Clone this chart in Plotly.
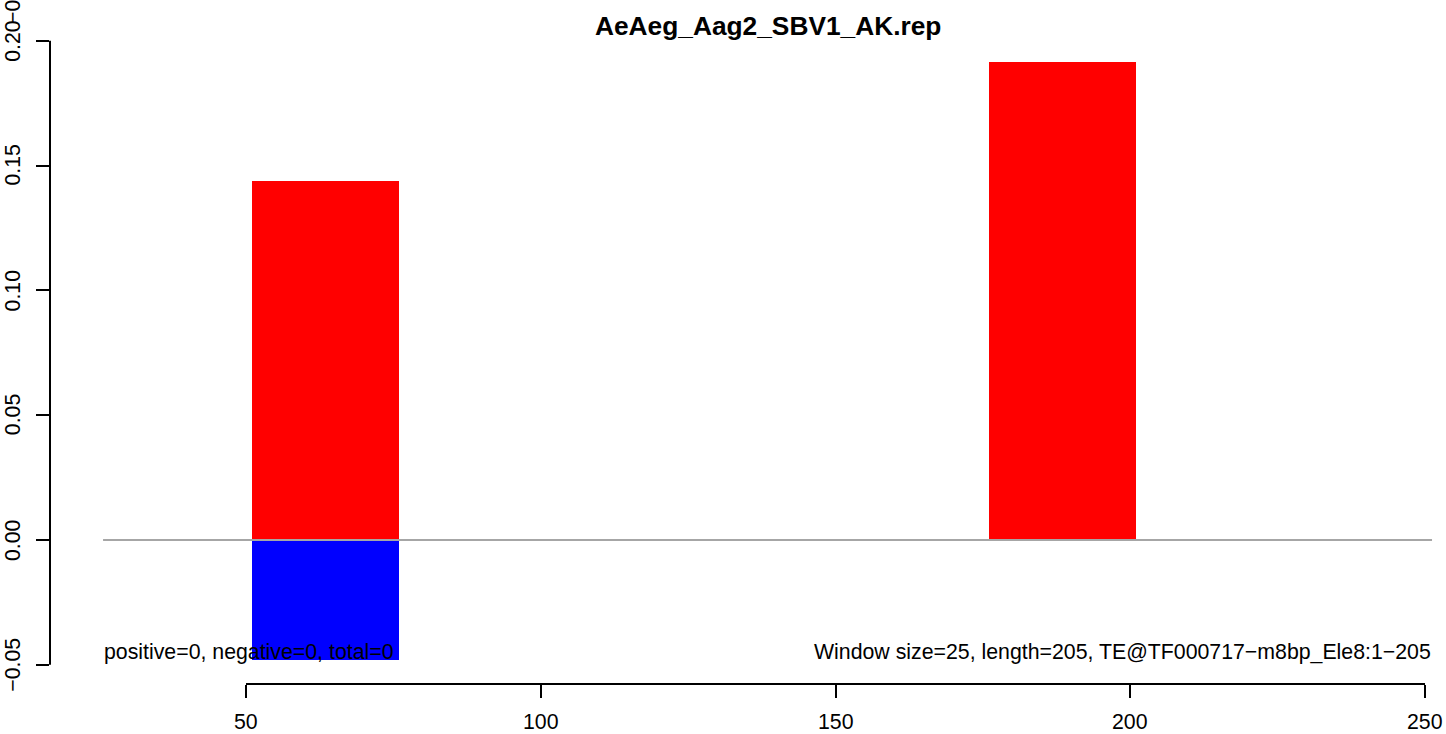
import plotly.graph_objects as go

# ---- data ----
title = "AeAeg_Aag2_SBV1_AK.rep"
window_starts = [51, 176]
window_size = 25
positive_vals = [0.1438, 0.1915]
negative_vals = [-0.0481, 0.0]
x_ticks = [50, 100, 150, 200, 250]
x_tick_labels = ["50", "100", "150", "200", "250"]
y_ticks = [-0.05, 0.0, 0.05, 0.10, 0.15, 0.20]
y_tick_labels = ["\u22120.05", "0.00", "0.05", "0.10", "0.15", "0.20"]
left_text = "positive=0, negative=0, total=0"
right_text = "Window size=25, length=205, TE@TF000717\u2212m8bp_Ele8:1\u2212205"

# ---- layout constants ----
W, H = 1446, 734
ML, MR, MT, MB = 50, 0, 38, 50
x_range = [16.75, 253.56]
y_range = [-0.05769, 0.20112]
x_lo, x_hi = 25.75, 251.19
text_y = -0.0449
FONT = "Liberation Sans, Arial, Helvetica, sans-serif"
FS = 21.3
pw = W - ML - MR
ph = H - MT - MB

centers = [s + window_size / 2 for s in window_starts]

fig = go.Figure()
fig.add_trace(go.Bar(x=centers, y=positive_vals, base=0, width=window_size,
                     marker=dict(color="#ff0000", line=dict(width=0)), showlegend=False))
fig.add_trace(go.Bar(x=centers, y=negative_vals, base=0, width=window_size,
                     marker=dict(color="#0000ff", line=dict(width=0)), showlegend=False))

shapes = [
    dict(type="line", xref="x", yref="y", x0=x_lo, x1=x_hi, y0=0, y1=0,
         line=dict(color="#a6a6a6", width=2), layer="above"),
    dict(type="line", xref="x", yref="paper", x0=x_ticks[0], x1=x_ticks[-1], y0=0, y1=0,
         line=dict(color="black", width=2)),
    dict(type="line", xref="paper", yref="y", x0=0, x1=0, y0=y_ticks[0], y1=y_ticks[-1],
         line=dict(color="black", width=2)),
]

ann = []
for v, t in zip(x_ticks, x_tick_labels):
    ann.append(dict(x=v, xref="x", y=-(721.5 - (H - MB)) / ph,
                    yref="paper", text=t, showarrow=False, xanchor="center", yanchor="middle",
                    font=dict(family=FONT, size=FS, color="black")))
for v, t in zip(y_ticks, y_tick_labels):
    ann.append(dict(x=(13 - ML) / pw, xref="paper", y=v, yref="y", text=t, showarrow=False,
                    textangle=-90, xanchor="center", yanchor="middle",
                    font=dict(family=FONT, size=FS, color="black")))
# clipped stray label at the very top of the y axis (partly outside the page, as in the reference)
ann.append(dict(x=(13 - ML) / pw, xref="paper", y=((H - MB) - (-3)) / ph, yref="paper",
                text="\u22120.05", showarrow=False, textangle=-90, xanchor="center", yanchor="middle",
                font=dict(family=FONT, size=FS, color="black")))
ann.append(dict(x=(767.5 - ML) / pw, xref="paper", y=((H - MB) - 26) / ph, yref="paper",
                text="<b>" + title + "</b>", showarrow=False, xanchor="center", yanchor="middle",
                font=dict(family=FONT, size=26.3, color="black")))
ann.append(dict(x=x_lo, xref="x", y=text_y, yref="y", text=left_text, showarrow=False,
                xanchor="left", yanchor="middle", borderpad=0,
                font=dict(family=FONT, size=FS, color="black")))
ann.append(dict(x=x_hi, xref="x", y=text_y, yref="y", text=right_text, showarrow=False,
                xanchor="right", yanchor="middle", borderpad=0,
                font=dict(family=FONT, size=FS, color="black")))

fig.update_layout(
    width=W, height=H,
    margin=dict(l=ML, r=MR, t=MT, b=MB, pad=0),
    paper_bgcolor="white", plot_bgcolor="white",
    barmode="overlay", bargap=0,
    shapes=shapes, annotations=ann,
    xaxis=dict(range=x_range, showgrid=False, zeroline=False, showline=False,
               tickmode="array", tickvals=x_ticks, showticklabels=False,
               ticks="outside", ticklen=13, tickwidth=2, tickcolor="black", fixedrange=True),
    yaxis=dict(range=y_range, showgrid=False, zeroline=False, showline=False,
               tickmode="array", tickvals=y_ticks, showticklabels=False,
               ticks="outside", ticklen=13, tickwidth=2, tickcolor="black", fixedrange=True),
    font=dict(family=FONT, size=FS, color="black"),
)

fig.write_html("out.html", config={"displayModeBar": False},
               post_script="document.body.style.margin='0px';document.body.style.overflow='hidden';")
